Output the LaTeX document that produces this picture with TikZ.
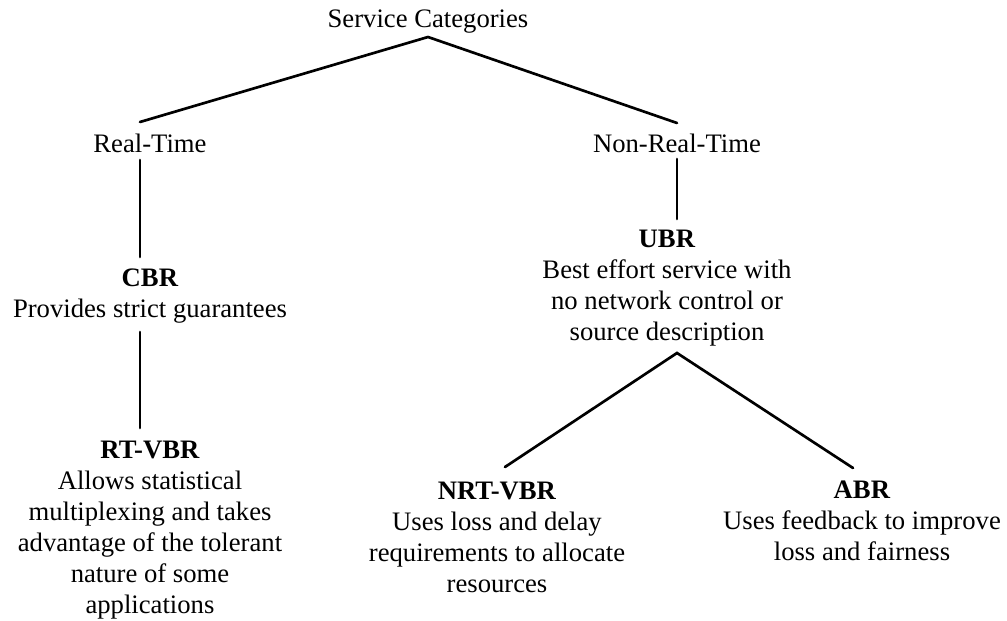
\documentclass[tikz,border=0pt]{standalone}
\usepackage{fontspec}
\setmainfont{Liberation Serif}
\begin{document}
\begin{tikzpicture}[x=0.75pt,y=-0.75pt,
  lbl/.style={anchor=base,inner sep=0pt,align=center,
    font=\fontsize{20}{23.25}\selectfont},
  branch/.style={line width=2pt,line cap=round,line join=miter}]
\useasboundingbox (0,0) rectangle (1007,621);

% category labels
\node[lbl] (sc)  at (428,27)  {Service Categories};
\node[lbl] (rt)  at (150,152) {Real-Time};
\node[lbl] (nrt) at (677,152) {Non-Real-Time};

% service classes with their descriptions (placed by the last line's baseline)
\node[lbl] (cbr) at (150,317) {\textbf{CBR}\\Provides strict guarantees};
\node[lbl] (rtvbr) at (150,613) {\textbf{RT-VBR}\\Allows statistical\\multiplexing and takes\\advantage of the tolerant\\nature of some\\applications};
\node[lbl] (ubr) at (667,340) {\textbf{UBR}\\Best effort service with\\no network control or\\source description};
\node[lbl] (nrtvbr) at (497,592) {\textbf{NRT-VBR}\\Uses loss and delay\\requirements to allocate\\resources};
\node[lbl] (abr) at (862,560) {\textbf{ABR}\\Uses feedback to improve\\loss and fairness};

% attachment points of the tree branches
\coordinate (sc-b)     at (428,37);
\coordinate (rt-t)     at (140,122);
\coordinate (nrt-t)    at (677,123);
\coordinate (rt-b)     at (140,160);
\coordinate (cbr-t)    at (140,257);
\coordinate (cbr-b)    at (140,332);
\coordinate (rtvbr-t)  at (140,428);
\coordinate (nrt-b)    at (677,159);
\coordinate (ubr-t)    at (677,219);
\coordinate (ubr-b)    at (677,353);
\coordinate (nrtvbr-t) at (505,467);
\coordinate (abr-t)    at (853,468);

% branches
\draw[branch] (rt-t) -- (sc-b) -- (nrt-t);
\draw[branch] (rt-b) -- (cbr-t);
\draw[branch] (cbr-b) -- (rtvbr-t);
\draw[branch] (nrt-b) -- (ubr-t);
\draw[branch] (nrtvbr-t) -- (ubr-b) -- (abr-t);
\end{tikzpicture}
\end{document}
